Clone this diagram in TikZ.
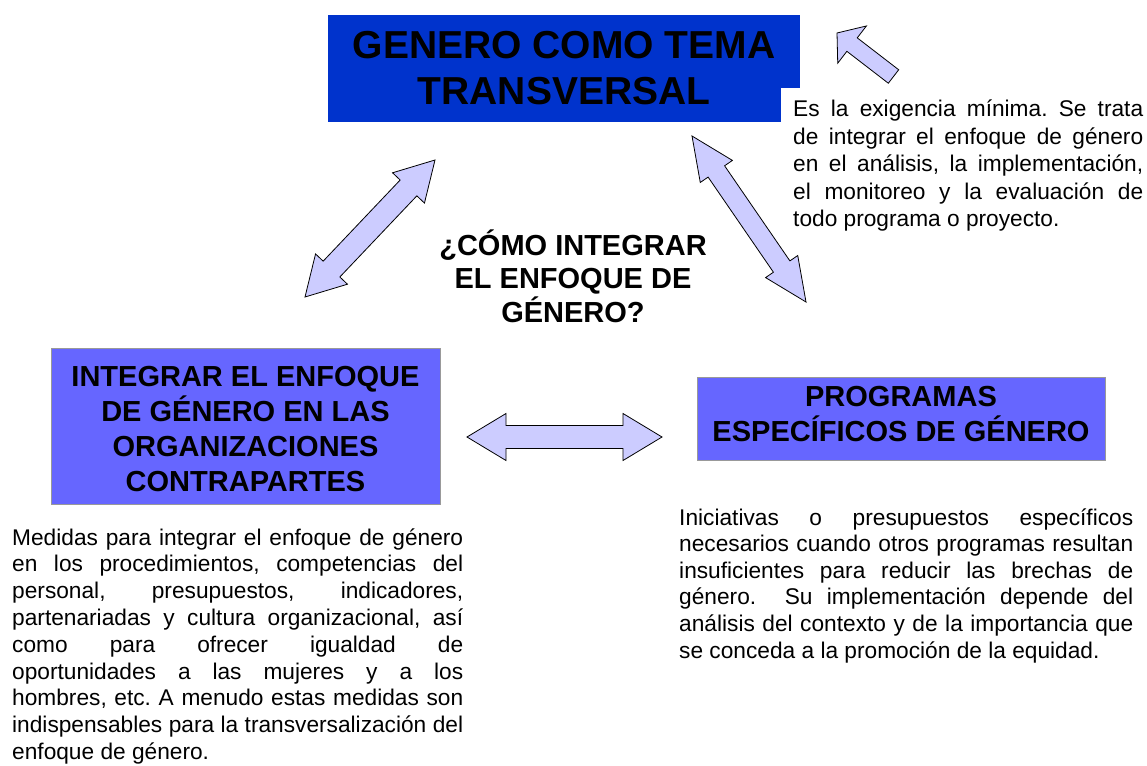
\documentclass[tikz,border=0pt]{standalone}
\usepackage{fontspec}
\setmainfont{Liberation Sans}
\usetikzlibrary{calc}
\frenchspacing
\definecolor{topblue}{HTML}{0033CC}
\definecolor{boxblue}{HTML}{6666FF}
\definecolor{arrowfill}{HTML}{CCCCFF}
\definecolor{boxedge}{HTML}{999999}
\newcommand\jline[1]{\hbox to\hsize{#1}}
\newcommand\lline[1]{\hbox{#1}}
\newcommand\dblarrow[5]{%
  \coordinate (dhA) at ($(#1)!#3!(#2)$);
  \coordinate (dhB) at ($(#2)!#3!(#1)$);
  \draw[blockarrow] (#1) -- ($(dhA)!#4!90:(#2)$) -- ($(dhA)!#5!90:(#2)$)
    -- ($(dhB)!#5!-90:(#1)$) -- ($(dhB)!#4!-90:(#1)$) -- (#2)
    -- ($(dhB)!#4!90:(#1)$) -- ($(dhB)!#5!90:(#1)$)
    -- ($(dhA)!#5!-90:(#2)$) -- ($(dhA)!#4!-90:(#2)$) -- cycle;}
\newcommand\sglarrow[5]{%
  \coordinate (shA) at ($(#1)!#3!(#2)$);
  \draw[blockarrow] (#1) -- ($(shA)!#4!90:(#2)$) -- ($(shA)!#5!90:(#2)$)
    -- ($(#2)!#5!-90:(#1)$) -- ($(#2)!#5!90:(#1)$)
    -- ($(shA)!#5!-90:(#2)$) -- ($(shA)!#4!-90:(#2)$) -- cycle;}
\tikzset{
  topbox/.style={rectangle, fill=topblue, draw=none, minimum width=472pt, minimum height=107pt, inner sep=0},
  subbox/.style={rectangle, fill=boxblue, draw=boxedge, line width=0.8pt, inner sep=0},
  boxlabel/.style={anchor=base, inner sep=0},
  bodytext/.style={anchor=base west, inner sep=0},
  blockarrow/.style={fill=arrowfill, draw=black, line width=0.8pt, line join=miter}
}
\begin{document}
\begin{tikzpicture}[x=1pt,y=-1pt]
\useasboundingbox (0,0) rectangle (1147,765);
\fill[white] (0,0) rectangle (1147,765);
% top box
\node[topbox] (top) at (564,68.5) {};
\node[boxlabel] (topT) at (564,58.3) {\parbox[t]{470pt}{\centering\fontsize{39}{46.7}\selectfont\bfseries GENERO COMO TEMA\\TRANSVERSAL}};
% white patch behind the explanation text
\fill[white] (781,88) rectangle (1147,240);
\node[bodytext] (ex) at (793,116.7) {\parbox[t]{350pt}{\fontsize{22.7}{27.5}\selectfont
  \jline{Es la exigencia mínima. Se trata}
  \jline{de integrar el enfoque de género}
  \jline{en el análisis, la implementación,}
  \jline{el monitoreo y la evaluación de}
  \lline{todo programa o proyecto.}}};
% left box
\node[subbox, minimum width=389pt, minimum height=156pt] (org) at (245.5,426) {};
\node[boxlabel] (orgT) at (245.5,386.7) {\parbox[t]{385pt}{\centering\fontsize{29}{35}\selectfont\bfseries INTEGRAR EL ENFOQUE\\DE GÉNERO EN LAS\\ORGANIZACIONES\\CONTRAPARTES}};
% right box
\node[subbox, minimum width=408pt, minimum height=83pt] (prog) at (901,418.5) {};
\node[boxlabel] (progT) at (901,406.7) {\parbox[t]{404pt}{\centering\fontsize{29}{35}\selectfont\bfseries PROGRAMAS\\ESPECÍFICOS DE GÉNERO}};
% question
\node[boxlabel] (q) at (573,255) {\parbox[t]{300pt}{\centering\fontsize{29}{33.5}\selectfont\bfseries ¿CÓMO INTEGRAR\\EL ENFOQUE DE\\GÉNERO?}};
% body texts
\node[bodytext] (med) at (12,545) {\parbox[t]{451pt}{\fontsize{22.7}{26.8}\selectfont
  \jline{Medidas para integrar el enfoque de género}
  \jline{en los procedimientos, competencias del}
  \jline{personal, presupuestos, indicadores,}
  \jline{partenariadas y cultura organizacional, así}
  \jline{como para ofrecer igualdad de}
  \jline{oportunidades a las mujeres y a los}
  \jline{hombres, etc. A menudo estas medidas son}
  \jline{indispensables para la transversalización del}
  \lline{enfoque de género.}}};
\node[bodytext] (ini) at (679,525) {\parbox[t]{454pt}{\fontsize{22.7}{26.6}\selectfont
  \jline{Iniciativas o presupuestos específicos}
  \jline{necesarios cuando otros programas resultan}
  \jline{insuficientes para reducir las brechas de}
  \jline{género.\ \ Su implementación depende del}
  \jline{análisis del contexto y de la importancia que}
  \lline{se conceda a la promoción de la equidad.}}};
% arrows
\coordinate (h1) at (467,437); \coordinate (h2) at (662,437);
\dblarrow{h1}{h2}{39pt}{23.5pt}{11.5pt}
\coordinate (l1) at (305,297); \coordinate (l2) at (435,160);
\dblarrow{l1}{l2}{38.5pt}{22pt}{11.5pt}
\coordinate (r1) at (692,136); \coordinate (r2) at (806,302);
\dblarrow{r1}{r2}{43pt}{19.5pt}{10pt}
\coordinate (s1) at (837,33); \coordinate (s2) at (893.5,76.5);
\sglarrow{s1}{s2}{19pt}{23.5pt}{8.5pt}
\end{tikzpicture}
\end{document}
